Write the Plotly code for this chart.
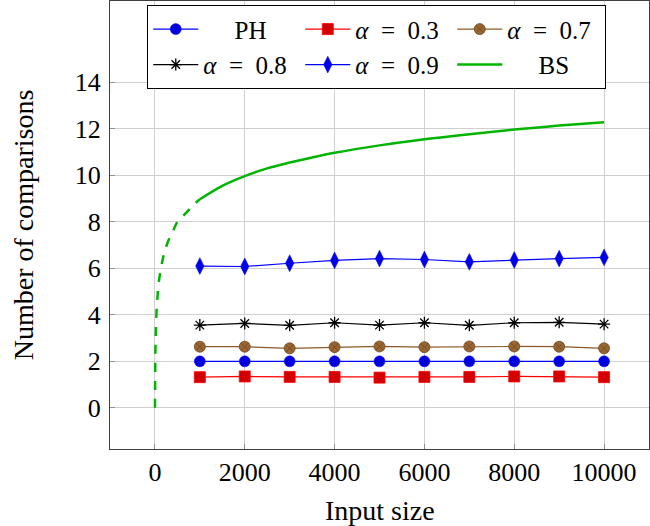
import plotly.graph_objects as go

x_vals = [1000, 2000, 3000, 4000, 5000, 6000, 7000, 8000, 9000, 10000]
ph = [2.0, 2.0, 2.0, 2.0, 2.0, 2.0, 2.0, 2.0, 2.0, 2.0]
a03 = [1.32, 1.35, 1.33, 1.33, 1.30, 1.33, 1.33, 1.35, 1.35, 1.32]
a07 = [2.63, 2.63, 2.56, 2.61, 2.64, 2.61, 2.64, 2.64, 2.63, 2.56]
a08 = [3.56, 3.63, 3.55, 3.66, 3.56, 3.66, 3.55, 3.66, 3.68, 3.60]
a09 = [6.10, 6.08, 6.22, 6.34, 6.42, 6.38, 6.28, 6.36, 6.42, 6.47]

bs_dash_x = [1, 3, 5, 10, 20, 50, 100, 200, 300, 400, 500, 600, 700, 800, 900, 1000]
bs_dash_y = [0.0, 0.6, 1.3, 2.3, 3.3, 4.6, 5.6, 6.6, 7.2, 7.6, 8.0, 8.2, 8.4, 8.6, 8.8, 8.97]
bs_x = [1000, 1500, 2000, 2500, 3000, 3500, 4000, 5000, 6000, 7000, 8000, 9000, 10000]
bs_y = [8.97, 9.55, 9.97, 10.3, 10.55, 10.77, 10.97, 11.29, 11.55, 11.77, 11.97, 12.14, 12.29]

x_ticks = [0, 2000, 4000, 6000, 8000, 10000]
y_ticks = [0, 2, 4, 6, 8, 10, 12, 14]

FONT = "Liberation Serif"
PAD = "\u00a0" * 5
EQ = "\u2002=\u2002"
fig = go.Figure()

fig.add_trace(go.Scatter(x=bs_dash_x, y=bs_dash_y, mode="lines", showlegend=False,
                         line=dict(color="rgb(0,180,0)", width=2.5, dash="dash", shape="spline")))

fig.add_trace(go.Scatter(x=x_vals, y=ph, mode="lines+markers", name=PAD + "PH",
                         line=dict(color="blue", width=1.2),
                         marker=dict(symbol="circle", size=11, color="rgb(0,0,220)",
                                     line=dict(color="blue", width=0.5))))
fig.add_trace(go.Scatter(x=x_vals, y=a03, mode="lines+markers", name="<i>α</i>" + EQ + "0.3",
                         line=dict(color="red", width=1.2),
                         marker=dict(symbol="square", size=11, color="rgb(210,0,0)",
                                     line=dict(color="red", width=0.8))))
fig.add_trace(go.Scatter(x=x_vals, y=a07, mode="lines+markers", name="<i>α</i>" + EQ + "0.7",
                         line=dict(color="rgb(140,90,40)", width=1.2),
                         marker=dict(symbol="circle-x", size=11, color="rgb(153,102,51)",
                                     line=dict(color="rgb(110,70,30)", width=0.8))))
fig.add_trace(go.Scatter(x=x_vals, y=a08, mode="lines+markers", name="<i>α</i>" + EQ + "0.8",
                         line=dict(color="black", width=1.2),
                         marker=dict(symbol="asterisk-open", size=10, color="black",
                                     line=dict(color="black", width=1.3))))
fig.add_trace(go.Scatter(x=x_vals, y=a09, mode="lines+markers", name="<i>α</i>" + EQ + "0.9",
                         line=dict(color="blue", width=1.2),
                         marker=dict(symbol="diamond-tall", size=12, color="rgb(0,0,230)",
                                     line=dict(color="blue", width=0.5))))
fig.add_trace(go.Scatter(x=bs_x, y=bs_y, mode="lines", name=PAD + "BS",
                         line=dict(color="rgb(0,180,0)", width=2.5, shape="spline")))

axis_common = dict(showline=True, mirror=True, linecolor="#404040", linewidth=1.3,
                   gridcolor="#d0d0d0", gridwidth=1, zeroline=False, automargin=False,
                   ticks="inside", ticklen=5, tickcolor="#909090",
                   tickfont=dict(family=FONT, size=26, color="black"))

fig.update_layout(
    width=650, height=526,
    margin=dict(l=110, r=1, t=1, b=77),
    paper_bgcolor="white", plot_bgcolor="white",
    font=dict(family=FONT, size=26, color="black"),
    xaxis=dict(range=[-1000, 11000], tickvals=x_ticks, ticktext=[str(v) for v in x_ticks],
               ticklabelstandoff=0, **axis_common),
    yaxis=dict(range=[-1.77, 17.5], tickvals=y_ticks, ticktext=[str(v) for v in y_ticks],
               ticklabelstandoff=3, **axis_common),
    legend=dict(orientation="h", x=0.0686, y=0.991, xanchor="left", yanchor="top",
                bgcolor="white", bordercolor="black", borderwidth=1.3,
                font=dict(family=FONT, size=25), entrywidth=92, itemwidth=45,
                traceorder="normal", tracegroupgap=0),
    annotations=[
        dict(text="Input size", xref="paper", yref="paper", x=0.5, y=-0.099,
             xanchor="center", yanchor="top", showarrow=False,
             font=dict(family=FONT, size=28, color="black")),
        dict(text="Number of comparisons", xref="paper", yref="paper", x=-0.161, y=0.5,
             xanchor="center", yanchor="middle", textangle=-90, showarrow=False,
             font=dict(family=FONT, size=28, color="black")),
    ],
)

fig.write_html("out.html", config={"displayModeBar": False},
               post_script="document.body.style.margin='0px';document.body.style.padding='0px';")
